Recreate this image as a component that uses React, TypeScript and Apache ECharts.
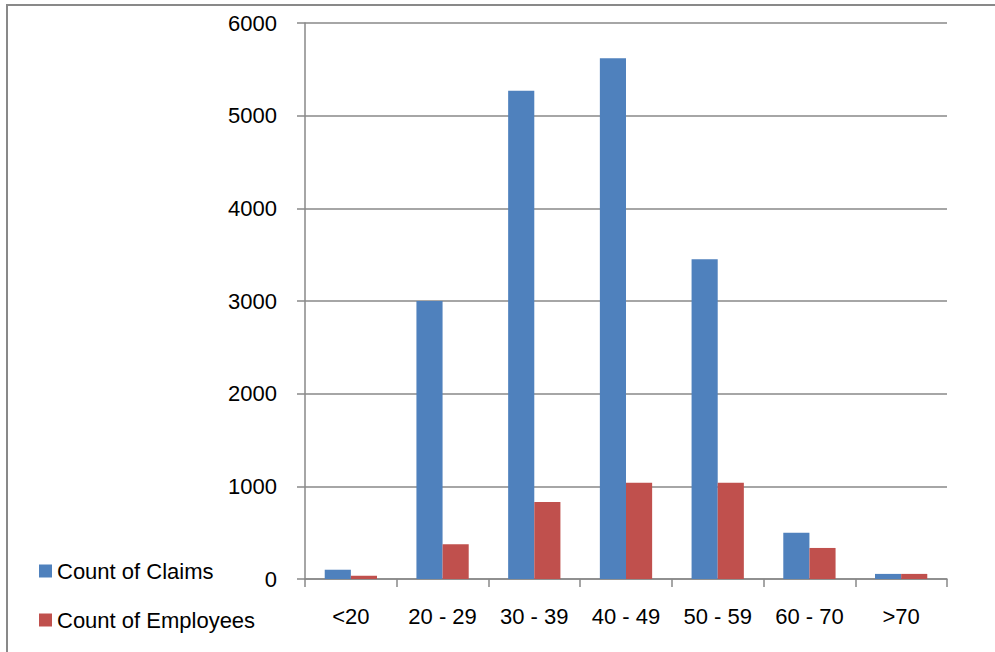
import React, { useEffect, useRef } from "react";
import * as echarts from "echarts";

const categories = ["<20", "20 - 29", "30 - 39", "40 - 49", "50 - 59", "60 - 70", ">70"];
const claims = [100, 3000, 5270, 5620, 3450, 500, 55];
const employees = [35, 375, 830, 1040, 1040, 335, 55];
const yTicks = { min: 0, max: 6000, interval: 1000 };

const FONT = "Liberation Sans";
const AXIS_COLOR = "#898989";

export default function App() {
  const ref = useRef<HTMLDivElement>(null);
  useEffect(() => {
    document.body.style.margin = "0";
    if (!ref.current) return;
    const chart = echarts.init(ref.current, null, { renderer: "svg" });
    chart.setOption({
      animation: false,
      backgroundColor: "#ffffff",
      textStyle: { fontFamily: FONT },
      grid: { left: 305, right: 48, top: 23, bottom: 73 },
      legend: {
        orient: "vertical",
        left: 34,
        top: 555,
        itemWidth: 13,
        itemHeight: 13,
        itemGap: 27,
        icon: "rect",
        data: ["Count of Claims", "Count of Employees"],
        textStyle: { fontFamily: FONT, fontSize: 22, color: "#000", lineHeight: 22 },
      },
      xAxis: {
        type: "category",
        data: categories,
        axisLine: { show: true, lineStyle: { color: AXIS_COLOR, width: 1.5 } },
        axisTick: { show: true, length: 8, lineStyle: { color: AXIS_COLOR, width: 1.5 } },
        axisLabel: { fontFamily: FONT, fontSize: 22, color: "#000", margin: 26 },
        splitLine: { show: false },
      },
      yAxis: {
        type: "value",
        min: yTicks.min,
        max: yTicks.max,
        interval: yTicks.interval,
        axisLine: { show: true, lineStyle: { color: AXIS_COLOR, width: 1.5 } },
        axisTick: { show: true, length: 8, lineStyle: { color: AXIS_COLOR, width: 1.5 } },
        axisLabel: {
          fontFamily: FONT,
          fontSize: 22,
          color: "#000",
          margin: 28,
          formatter: (v: number) => String(v),
        },
        splitLine: { show: true, lineStyle: { color: AXIS_COLOR, width: 1.5 } },
      },
      series: [
        {
          name: "Count of Claims",
          type: "bar",
          data: claims,
          barGap: "0%",
          barCategoryGap: "43%",
          itemStyle: { color: "#4F81BD" },
        },
        {
          name: "Count of Employees",
          type: "bar",
          data: employees,
          barGap: "0%",
          barCategoryGap: "43%",
          itemStyle: { color: "#C0504D" },
        },
      ],
      graphic: [
        {
          type: "rect",
          shape: { x: 7, y: 5, width: 1000, height: 700 },
          style: { fill: "none", stroke: AXIS_COLOR, lineWidth: 2 },
          silent: true,
        },
      ],
    });
    return () => chart.dispose();
  }, []);
  return <div ref={ref} style={{ width: 995, height: 652 }} />;
}
